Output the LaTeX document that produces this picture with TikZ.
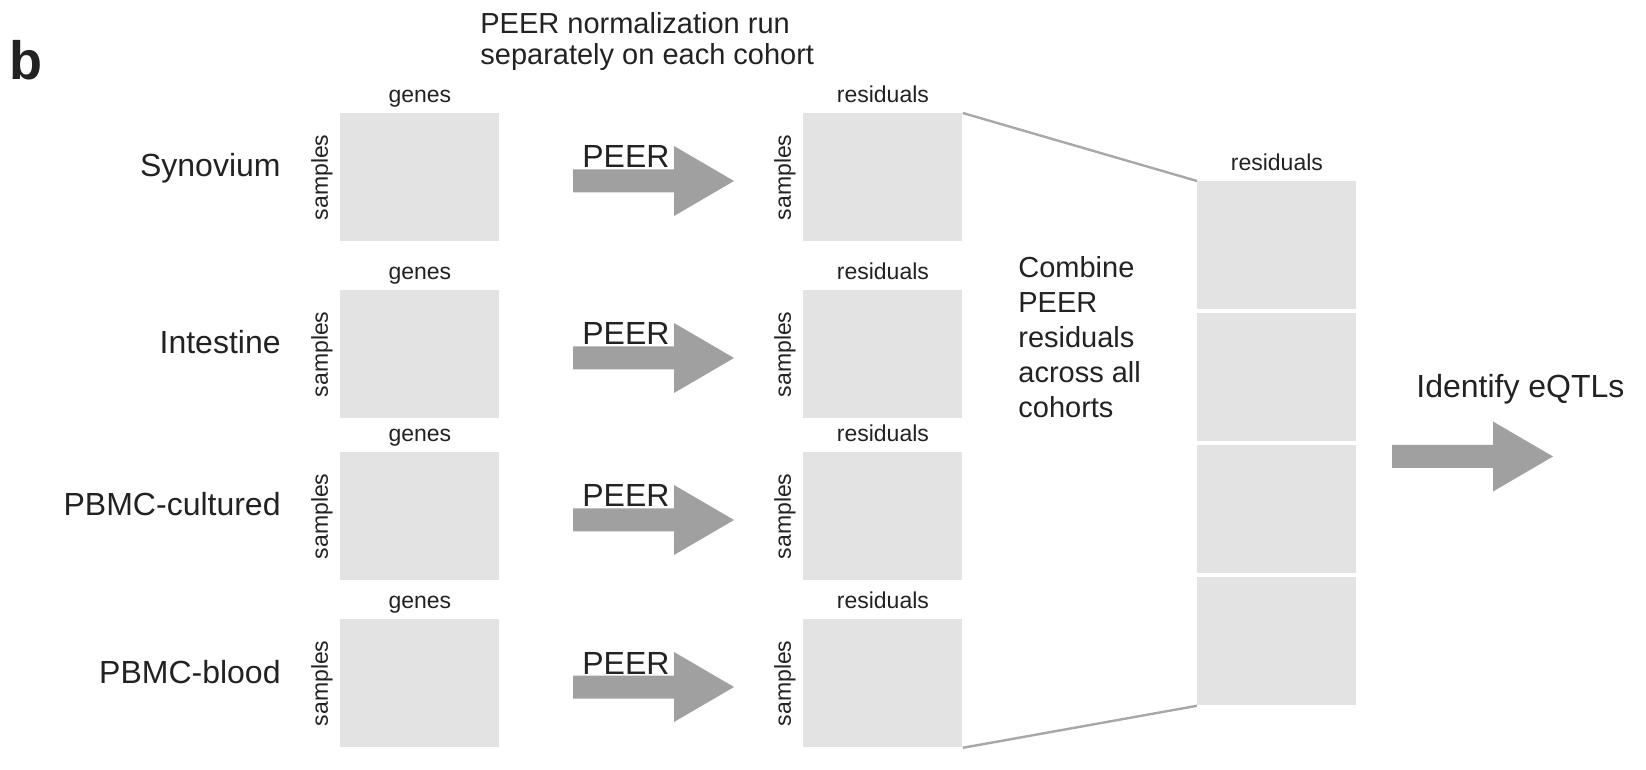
\documentclass[tikz,border=0pt]{standalone}
\usepackage{fontspec}
\setmainfont{Liberation Sans}
\usetikzlibrary{positioning}

\definecolor{boxgray}{HTML}{E3E3E3}
\definecolor{arrowgray}{HTML}{A0A0A0}
\definecolor{linegray}{HTML}{A8A8A8}
\definecolor{inkgray}{HTML}{222222}

% block arrow, #1 = left end of the shaft
\newcommand{\fatarrow}[1]{%
  \fill[arrowgray] (#1) ++(0,-11.5) -- ++(101,0) -- ++(0,-23.5) -- ++(60,35)
    -- ++(-60,35) -- ++(0,-23.5) -- ++(-101,0) -- cycle;}

\begin{document}
\begin{tikzpicture}[
  x=0.5pt, y=-0.5pt,
  every node/.style={text=inkgray, inner sep=0pt},
  datbox/.style={fill=boxgray, minimum width=79.5pt, minimum height=64pt, anchor=north west}, % grey data matrices
  lbl/.style={font=\fontsize{11.5}{13}\selectfont},
  cohort/.style={font=\fontsize{16}{19}\selectfont, anchor=base east},
  big/.style={font=\fontsize{16}{19}\selectfont, anchor=base west},
  note/.style={font=\fontsize{14.5}{17.5}\selectfont, align=left, anchor=north west},
  link/.style={draw=linegray, line width=1.2pt}
]
  \useasboundingbox (0,0) rectangle (1646,770);

  \node[font=\bfseries\fontsize{27}{32}\selectfont, anchor=base west] (panel) at (9,80) {b};
  \node[note, font=\fontsize{14.5}{15.5}\selectfont] (title) at (480,12) {PEER normalization run\\separately on each cohort};

  % one row per cohort
  \foreach \top/\tissue [count=\i] in {113/Synovium,290/Intestine,452/PBMC-cultured,619/PBMC-blood}{
    \node[datbox] (in\i) at (340,\top) {};
    \node[datbox] (out\i) at (803,\top) {};
    \node[lbl, anchor=base] (genes\i) at ([yshift=5pt]in\i.north) {genes};
    \node[lbl, anchor=base] (resid\i) at ([yshift=5pt]out\i.north) {residuals};
    \node[lbl, rotate=90, anchor=south, inner sep=3.5pt] (samplesin\i) at (in\i.west) {samples};
    \node[lbl, rotate=90, anchor=south, inner sep=3.5pt] (samplesout\i) at (out\i.west) {samples};
    \node[cohort] (tissue\i) at (281,\top+64) {\tissue};
    \node[big] (peer\i) at (582,\top+55) {PEER};
    \coordinate (shaft\i) at (573,\top+68);
    \fatarrow{shaft\i}
  }

  % combined residuals
  \foreach \i in {1,...,4}
    \node[datbox] (pool\i) at (1197,{181+(\i-1)*132}) {};
  \node[lbl, anchor=base] (poolhead) at ([yshift=5pt]pool1.north) {residuals};
  \draw[link] (out1.north east) -- (pool1.north west);
  \draw[link] (out4.south east) -- (pool4.south west);

  \node[note] (combine) at (1018,256) {Combine\\PEER\\residuals\\across all\\cohorts};
  \node[big] (eqtl) at (1416,398) {Identify eQTLs};
  \coordinate (shaft5) at (1392,456.5);
  \fatarrow{shaft5}
\end{tikzpicture}
\end{document}
